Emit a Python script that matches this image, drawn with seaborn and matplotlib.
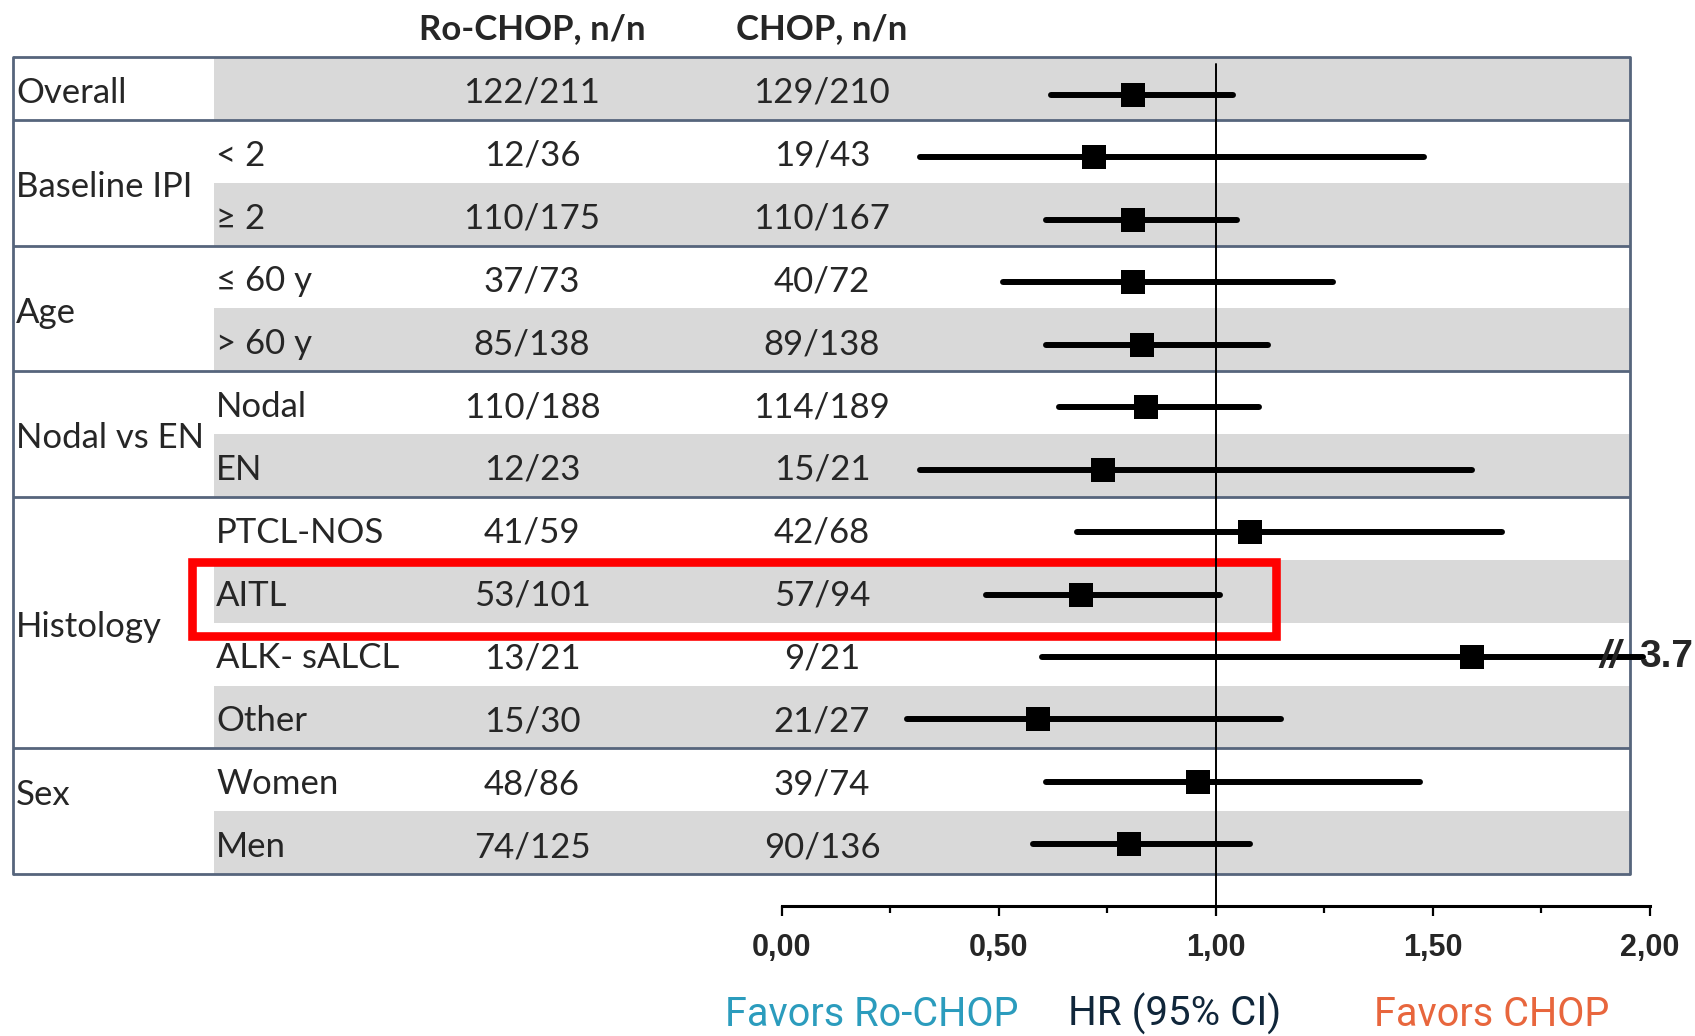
import matplotlib
matplotlib.use("Agg")
import matplotlib.pyplot as plt
from matplotlib.patches import Rectangle
from matplotlib.ticker import MultipleLocator, FuncFormatter
import seaborn as sns
import pandas as pd

sns.set_theme(style="white")
plt.rcParams['font.family'] = ['Lato', 'DejaVu Sans']

# ---------------- data ----------------
group_names = ["Overall", "Baseline IPI", "Age", "Nodal vs EN", "Histology", "Sex"]
group_start = [0, 1, 3, 5, 7, 11]
group_end = [1, 3, 5, 7, 11, 13]
subgroups = ["", "< 2", "≥ 2", "≤ 60 y", "> 60 y", "Nodal", "EN",
             "PTCL-NOS", "AITL", "ALK- sALCL", "Other", "Women", "Men"]
ro_chop = ["122/211", "12/36", "110/175", "37/73", "85/138", "110/188", "12/23",
           "41/59", "53/101", "13/21", "15/30", "48/86", "74/125"]
chop = ["129/210", "19/43", "110/167", "40/72", "89/138", "114/189", "15/21",
        "42/68", "57/94", "9/21", "21/27", "39/74", "90/136"]
hr = [0.81, 0.72, 0.81, 0.81, 0.83, 0.84, 0.74, 1.08, 0.69, 1.59, 0.59, 0.96, 0.80]
ci_lo = [0.62, 0.32, 0.61, 0.51, 0.61, 0.64, 0.32, 0.68, 0.47, 0.60, 0.29, 0.61, 0.58]
ci_hi = [1.04, 1.48, 1.05, 1.27, 1.12, 1.10, 1.59, 1.66, 1.01, 3.70, 1.15, 1.47, 1.08]
header_ro = "Ro-CHOP, n/n"
header_chop = "CHOP, n/n"
highlight_row = 8
axis_ticks = [0.0, 0.5, 1.0, 1.5, 2.0]
label_left = "Favors Ro-CHOP"
label_mid = "HR (95% CI)"
label_right = "Favors CHOP"

# ---------------- geometry ----------------
W, H = 1695, 1036
X0, PXU = 781.6, 434.0       # pixel of HR=0, pixels per HR unit
Y0, ROWH = 57.0, 62.85       # table: pixel of top, row height
F0, FROWH = 95.0, 62.44      # forest panel: pixel of first row, row spacing


def hx(px):
    return (px - X0) / PXU


def hy(py):
    return (py - Y0) / ROWH


def fy(py):
    return (py - F0) / FROWH


fig = plt.figure(figsize=(W / 100, H / 100), dpi=100)

# ---------- table axes ----------
ax = fig.add_axes([0, 0, 1, 1])
x_left, x_col2, x_right = hx(13), hx(214), hx(1630)
n = len(subgroups)

for i in range(0, n, 2):
    ax.add_patch(Rectangle((x_col2, i), x_right - x_col2, 1, facecolor="#d9d9d9",
                           edgecolor="none", zorder=0))

sep_color = "#56657c"
for y in sorted(set(group_start + group_end)):
    ax.plot([x_left, x_right], [y, y], color=sep_color, lw=2.0, zorder=2,
            solid_capstyle="butt")
ax.plot([x_left, x_left], [0, n], color=sep_color, lw=2.0, zorder=2)
ax.plot([x_right, x_right], [0, n], color=sep_color, lw=2.0, zorder=2)

fs = 25
toff = 0.07
for g, s0, s1 in zip(group_names, group_start, group_end):
    yc = (s0 + s1) / 2
    if g == "Sex":
        yc -= 0.33
    ax.text(hx(16), yc + toff, g, fontsize=fs, ha="left", va="center", zorder=6)
for i in range(n):
    ax.text(hx(216), i + 0.5 + toff, subgroups[i], fontsize=fs, ha="left", va="center",
            zorder=6)
    ax.text(hx(532), i + 0.5 + toff, ro_chop[i], fontsize=fs, ha="center", va="center",
            zorder=6)
    ax.text(hx(822), i + 0.5 + toff, chop[i], fontsize=fs, ha="center", va="center",
            zorder=6)

ax.text(hx(532), hy(29), header_ro, fontsize=fs, fontweight="bold", ha="center",
        va="center")
ax.text(hx(822), hy(29), header_chop, fontsize=fs, fontweight="bold", ha="center",
        va="center")

# highlight box
ax.add_patch(Rectangle((hx(192), highlight_row + 0.03), hx(1276) - hx(192), 1.18,
                       facecolor="none", edgecolor="#ff0000", lw=6.2, zorder=7))

# bottom labels
ylab = hy(1014)
lab_font = ["Roboto", "DejaVu Sans"]
ax.text(hx(872), ylab, label_left, fontsize=28.5, color="#2b9cbd", family=lab_font,
        ha="center", va="center")
ax.text(hx(1175), ylab, label_mid, fontsize=29, color="#10263a", family=lab_font,
        ha="center", va="center")
ax.text(hx(1492), ylab, label_right, fontsize=28.5, color="#e8663d", family=lab_font,
        ha="center", va="center")

ax.set_xlim(hx(0), hx(W))
ax.set_ylim(hy(H), hy(0))
ax.axis("off")

# ---------- forest axes ----------
axf = fig.add_axes([0, 0, 1, 1])
axf.patch.set_alpha(0)
df = pd.DataFrame({"hr": hr, "row": list(range(n))})

axf.plot([1, 1], [fy(64), fy(906)], color="black", lw=1.4, zorder=3)

x_max_draw = 1.985
for i in range(n):
    axf.plot([ci_lo[i], min(ci_hi[i], x_max_draw)], [i, i], color="black",
             lw=4.3, solid_capstyle="round", zorder=4)
    if ci_hi[i] > 2.0:
        axf.text(hx(1610), i, "//", fontsize=28, fontweight="bold", style="italic",
                 family=["Liberation Sans", "DejaVu Sans"], ha="center", va="center",
                 zorder=6)
        axf.text(hx(1639), i, f"{ci_hi[i]:.1f}", fontsize=28, fontweight="bold",
                 family=["Liberation Sans", "DejaVu Sans"], ha="left", va="center",
                 zorder=6)

sns.scatterplot(data=df, x="hr", y="row", marker="s", s=290, color="black",
                linewidth=0, legend=False, ax=axf, zorder=5)

axf.set_xlim(hx(0), hx(W))
axf.set_ylim(fy(H), fy(0))
axf.axis("off")

# ---------- HR axis ----------
ax2 = fig.add_axes([X0 / W, (H - 906) / H, 2 * PXU / W, 0.01])
ax2.patch.set_alpha(0)
for sp in ["top", "left", "right"]:
    ax2.spines[sp].set_visible(False)
ax2.spines["bottom"].set_linewidth(2.2)
ax2.spines["bottom"].set_color("black")
ax2.set_xlim(0, 2)
ax2.set_yticks([])
ax2.set_xticks(axis_ticks)
ax2.xaxis.set_minor_locator(MultipleLocator(0.25))
ax2.xaxis.set_major_formatter(FuncFormatter(lambda v, p: f"{v:.2f}".replace(".", ",")))
ax2.tick_params(axis="x", which="major", direction="out", length=7.5, width=1.6,
                color="black", pad=12, labelsize=22)
ax2.tick_params(axis="x", which="minor", direction="out", length=5, width=1.6,
                color="black")
ax2.xaxis.set_ticks_position("bottom")
for lab in ax2.get_xticklabels():
    lab.set_fontweight("bold")
    lab.set_family(["Liberation Sans", "DejaVu Sans"])

fig.savefig("out.png", dpi=100)
